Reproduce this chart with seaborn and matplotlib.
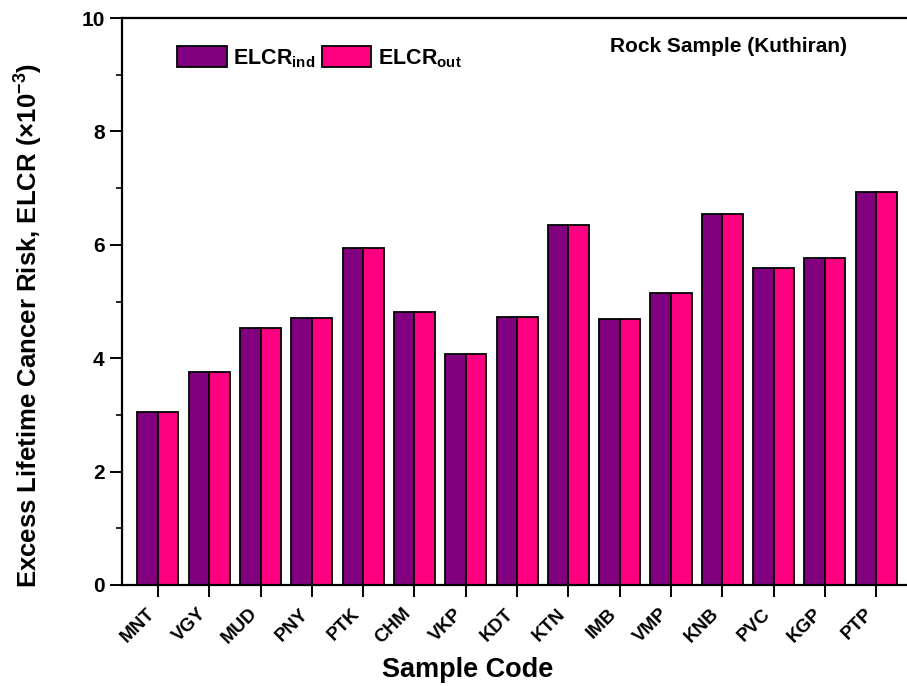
import matplotlib
matplotlib.use("Agg")
import matplotlib.pyplot as plt
from matplotlib.ticker import MultipleLocator
import seaborn as sns
import pandas as pd

# Sample codes and excess lifetime cancer risk values (x10^-3)
samples = ["MNT", "VGY", "MUD", "PNY", "PTK", "CHM", "VKP", "KDT",
           "KTN", "IMB", "VMP", "KNB", "PVC", "KGP", "PTP"]
elcr_ind = [3.05, 3.76, 4.53, 4.71, 5.95, 4.82, 4.07, 4.72,
            6.35, 4.69, 5.15, 6.54, 5.59, 5.77, 6.94]
elcr_out = [3.05, 3.76, 4.53, 4.71, 5.95, 4.82, 4.07, 4.72,
            6.35, 4.69, 5.15, 6.54, 5.59, 5.77, 6.94]
series_names = ["ind", "out"]
series_colors = {"ind": "#800080", "out": "#FF0080"}

df = pd.DataFrame({
    "sample": samples * 2,
    "series": [series_names[0]] * len(samples) + [series_names[1]] * len(samples),
    "elcr": elcr_ind + elcr_out,
})

sns.set_theme(style="ticks")
plt.rcParams["font.family"] = ["Liberation Sans", "DejaVu Sans"]
plt.rcParams["font.weight"] = "bold"
plt.rcParams["mathtext.fontset"] = "custom"
plt.rcParams["mathtext.rm"] = "Liberation Sans:bold"
plt.rcParams["mathtext.bf"] = "Liberation Sans:bold"
plt.rcParams["mathtext.it"] = "Liberation Sans:bold"
for key in ("text.color", "axes.labelcolor", "xtick.color", "ytick.color"):
    plt.rcParams[key] = "black"

fig = plt.figure(figsize=(9.07, 6.86), dpi=100)
ax = fig.add_axes([122 / 907, 1 - 585 / 686, 1 - 122 / 907, (585 - 18) / 686])

sns.barplot(data=df, x="sample", y="elcr", hue="series", order=samples,
            hue_order=series_names, palette=series_colors, width=0.8,
            edgecolor="black", linewidth=1.3, saturation=1, ax=ax)

ax.set_xlim(-0.7, 14.6)
ax.set_ylim(0, 10)
ax.yaxis.set_major_locator(MultipleLocator(2))
ax.yaxis.set_minor_locator(MultipleLocator(1))

for side in ("top", "left", "bottom"):
    ax.spines[side].set_linewidth(1.6)
    ax.spines[side].set_color("black")
ax.spines["right"].set_visible(False)

ax.tick_params(axis="both", which="major", direction="out", length=8.5,
               width=1.4, color="black")
ax.tick_params(axis="y", which="major", labelsize=15, pad=4)
ax.tick_params(axis="y", which="minor", direction="out", length=4.5,
               width=1.2, color="black")
ax.tick_params(axis="x", which="major", pad=6)

for lbl in ax.get_yticklabels():
    lbl.set_fontweight("bold")
ax.set_xticks(range(len(samples)))
ax.set_xticklabels(samples, rotation=45, ha="right",
                   fontweight="bold", fontsize=13.5)

ax.set_xlabel("Sample Code", fontsize=19.5, fontweight="bold")
ax.xaxis.set_label_coords(468 / 907, 1 - 657 / 686, transform=fig.transFigure)
ax.set_ylabel(r"Excess Lifetime Cancer Risk, ELCR (×10$^{-3}$)",
              fontsize=18.5, fontweight="bold")
ax.yaxis.set_label_coords(45 / 907, 1 - 325 / 686, transform=fig.transFigure)

handles, _ = ax.get_legend_handles_labels()
ax.legend(handles, [r"ELCR$_{\mathrm{ind}}$", r"ELCR$_{\mathrm{out}}$"],
          loc="upper left", bbox_to_anchor=(177 / 907, 1 - 46 / 686),
          bbox_transform=fig.transFigure, ncol=2, frameon=False,
          handlelength=2.3, handleheight=1.15, handletextpad=0.3,
          columnspacing=0.3, borderpad=0, borderaxespad=0,
          prop={"weight": "bold", "size": 15.5})

ax.text(729 / 907, 1 - 46 / 686, "Rock Sample (Kuthiran)",
        transform=fig.transFigure, ha="center", va="center",
        fontsize=15, fontweight="bold")

fig.savefig("out.png", dpi=100, facecolor="white")
